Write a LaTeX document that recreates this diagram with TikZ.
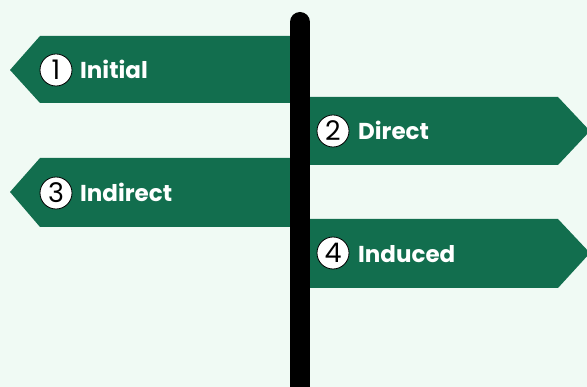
\documentclass[tikz,border=0pt]{standalone}
\usepackage{fontspec}
\setmainfont{Poppins}
\definecolor{signgreen}{RGB}{18,110,78}
\definecolor{bgmint}{RGB}{240,250,244}
\begin{document}
\begin{tikzpicture}[x=1pt,y=-1pt,
  signshape/.style={fill=signgreen},
  num/.style={circle, draw=black, fill=white, line width=0.8pt, minimum size=32pt, inner sep=0pt, font=\fontsize{27}{27}\selectfont},
  lbl/.style={anchor=base west, text=white, inner sep=0pt, font=\bfseries\fontsize{23}{23}\selectfont}]
\fill[bgmint] (0,0) rectangle (587,387);
\useasboundingbox (0,0) rectangle (587,387);
% signs
\fill[signshape] (292,36) -- (40,36) -- (10,70) -- (40,103) -- (292,103) -- cycle;
\fill[signshape] (308,97) -- (558,97) -- (590,131) -- (558,165) -- (308,165) -- cycle;
\fill[signshape] (292,158) -- (40,158) -- (10,192) -- (40,227) -- (292,227) -- cycle;
\fill[signshape] (308,219) -- (558,219) -- (590,253) -- (558,288) -- (308,288) -- cycle;
% pole
\draw[line width=20pt, line cap=round] (300,22) -- (300,400);
% numbers and labels
\node[num] (n1) at (56,70) {1};
\node[lbl] (l1) at (80,79) {Initial};
\node[num] (n2) at (333,131) {2};
\node[lbl] (l2) at (358,140) {Direct};
\node[num] (n3) at (56,193) {3};
\node[lbl] (l3) at (80,201.5) {Indirect};
\node[num] (n4) at (333,253) {4};
\node[lbl] (l4) at (358,262.5) {Induced};
\end{tikzpicture}
\end{document}
